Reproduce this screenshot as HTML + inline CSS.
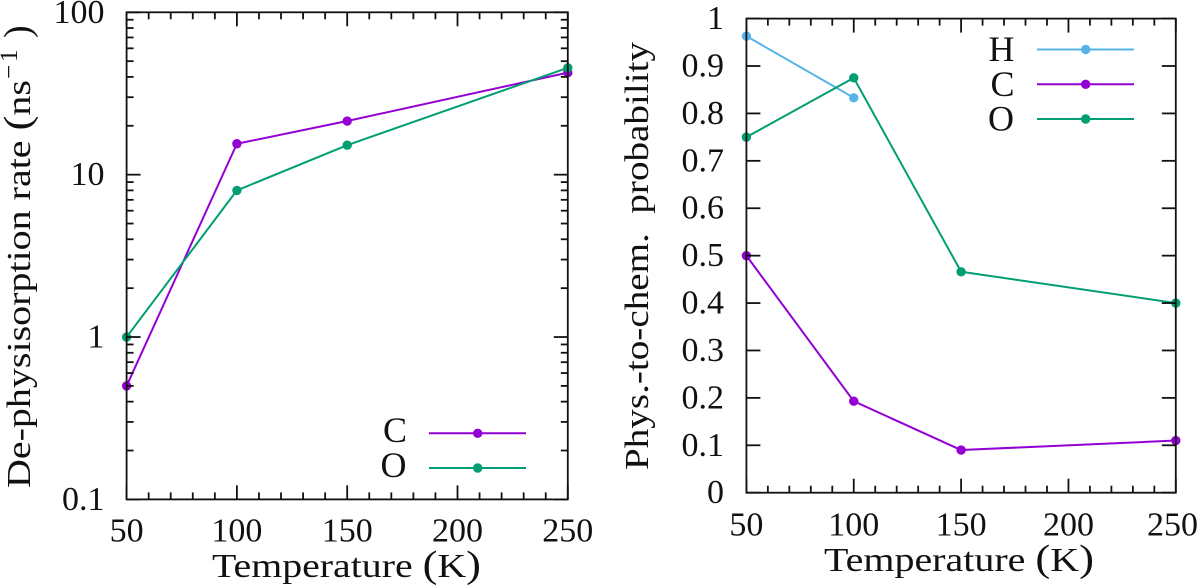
<!DOCTYPE html>
<html lang="en">
<head>
<meta charset="utf-8">
<title>De-physisorption rate and phys-to-chem probability</title>
<style>
html,body{margin:0;padding:0;background:#fff;}
svg{display:block;}
text{font-family:"Liberation Serif",serif;fill:#111;}
</style>
</head>
<body>
<svg id="fig" xmlns="http://www.w3.org/2000/svg" width="1200" height="586" viewBox="0 0 1200 586">
  <rect x="0" y="0" width="1200" height="586" fill="#fff"/>
  <g id="left-plot"></g>
  <g id="right-plot"></g>

  <text x="212" y="577" font-size="34" textLength="269" lengthAdjust="spacingAndGlyphs">Temperature <tspan font-size="38">(</tspan>K<tspan font-size="38">)</tspan></text>
  <text x="824" y="571" font-size="34" textLength="270" lengthAdjust="spacingAndGlyphs">Temperature <tspan font-size="38">(</tspan>K<tspan font-size="38">)</tspan></text>

  <g transform="translate(30 488) rotate(-90)">
    <text x="0" y="0" font-size="34" textLength="408" lengthAdjust="spacingAndGlyphs">De-physisorption rate <tspan font-size="38">(</tspan>ns</text>
    <text y="-13" font-size="25"><tspan x="409">−</tspan><tspan x="426">1</tspan></text>
    <text x="450" y="0" font-size="38">)</text>
  </g>
  <text transform="translate(648 470) rotate(-90)" x="0" y="0" font-size="34" textLength="428" lengthAdjust="spacingAndGlyphs" xml:space="preserve">Phys.-to-chem.  probability</text>

  <g>
    <text x="407" y="442" font-size="36" text-anchor="end">C</text>
    <line x1="429" y1="433.3" x2="526" y2="433.3" stroke="#9400d3" stroke-width="2"/>
    <circle cx="477.7" cy="433.3" r="4.7" fill="#9400d3"/>
    <text x="406.5" y="477" font-size="36" text-anchor="end">O</text>
    <line x1="429" y1="468" x2="526" y2="468" stroke="#009e73" stroke-width="2"/>
    <circle cx="477.7" cy="468" r="4.7" fill="#009e73"/>
  </g>

  <g>
    <text x="1014.5" y="61" font-size="36" text-anchor="end">H</text>
    <line x1="1037" y1="49.5" x2="1134" y2="49.5" stroke="#56b4e9" stroke-width="2"/>
    <circle cx="1085.7" cy="49.5" r="4.7" fill="#56b4e9"/>
    <text x="1014.5" y="96" font-size="36" text-anchor="end">C</text>
    <line x1="1037" y1="84.3" x2="1134" y2="84.3" stroke="#9400d3" stroke-width="2"/>
    <circle cx="1085.7" cy="84.3" r="4.7" fill="#9400d3"/>
    <text x="1014" y="130.5" font-size="36" text-anchor="end">O</text>
    <line x1="1037" y1="119" x2="1134" y2="119" stroke="#009e73" stroke-width="2"/>
    <circle cx="1085.7" cy="119" r="4.7" fill="#009e73"/>
  </g>
</svg>

<script>
// Shared x data
const temperatures = [50, 100, 150, 250];
const xTickValues = [50, 100, 150, 200, 250];
const xMinorTickValues = [60, 70, 80, 90, 110, 120, 130, 140, 160, 170, 180, 190, 210, 220, 230, 240];

// Left panel data (log scale)
const rateC = [0.5, 15.5, 21.4, 42.5];
const rateO = [1, 8, 15.2, 45.5];
const rateTickValues = [0.1, 1, 10, 100];
const rateTickLabels = ['0.1', '1', '10', '100'];
const rateMinorTickValues = [0.2, 0.3, 0.4, 0.5, 0.6, 0.7, 0.8, 0.9, 2, 3, 4, 5, 6, 7, 8, 9, 20, 30, 40, 50, 60, 70, 80, 90];

// Right panel data (linear scale)
const probTemperaturesH = [50, 100];
const probH = [0.963, 0.833];
const probC = [0.5, 0.193, 0.09, 0.11];
const probO = [0.75, 0.875, 0.466, 0.4];
const probTickValues = [0, 0.1, 0.2, 0.3, 0.4, 0.5, 0.6, 0.7, 0.8, 0.9, 1];
const probTickLabels = ['0', '0.1', '0.2', '0.3', '0.4', '0.5', '0.6', '0.7', '0.8', '0.9', '1'];

const NS = 'http://www.w3.org/2000/svg';

function make(parent, tag, name, props) {
  const el = document.createElementNS(NS, tag);
  
  
  for (const key in props) el.setAttribute(key, props[key]);
  parent.appendChild(el);
  return el;
}

function scaleX(box, t) {
  return box.left + (t - 50) / 200 * (box.right - box.left);
}

function logY(box, v) {
  return box.bottom - (Math.log10(v) + 1) / 3 * (box.bottom - box.top);
}

function linY(box, v) {
  return box.bottom - v * (box.bottom - box.top);
}

function drawSeries(parent, box, name, xs, ys, yFn, color) {
  const pts = xs.map(function (t, i) {
    return scaleX(box, t).toFixed(2) + ',' + yFn(box, ys[i]).toFixed(2);
  }).join(' ');
  make(parent, 'polyline', name + '-line', {
    points: pts, fill: 'none', stroke: color, 'stroke-width': 2, 'stroke-linejoin': 'round'
  });
  xs.forEach(function (t, i) {
    make(parent, 'circle', name + '-point-' + t, {
      cx: scaleX(box, t).toFixed(2), cy: yFn(box, ys[i]).toFixed(2), r: 4.7, fill: color
    });
  });
}

function tick(parent, name, x1, y1, x2, y2) {
  make(parent, 'line', name, { x1: x1, y1: y1, x2: x2, y2: y2, stroke: '#111', 'stroke-width': 1.8 });
}

function drawFrame(parent, box, yFn, yTicks, yLabels, yMinor, labelRight, xLabelY) {
  const MAJOR = 14, MINOR = 7;
  xMinorTickValues.forEach(function (t) {
    const x = scaleX(box, t);
    tick(parent, 'x-minor-tick-bottom', x, box.bottom, x, box.bottom - MINOR);
    tick(parent, 'x-minor-tick-top', x, box.top, x, box.top + MINOR);
  });
  xTickValues.forEach(function (t) {
    const x = scaleX(box, t);
    tick(parent, 'x-major-tick-bottom', x, box.bottom, x, box.bottom - MAJOR);
    tick(parent, 'x-major-tick-top', x, box.top, x, box.top + MAJOR);
    const label = make(parent, 'text', 'x-tick-label', { x: Math.min(x, 1172.5), y: xLabelY, 'font-size': 34, 'text-anchor': 'middle' });
    label.textContent = String(t);
  });
  yMinor.forEach(function (v) {
    const y = yFn(box, v);
    tick(parent, 'y-minor-tick-left', box.left, y, box.left + MINOR, y);
    tick(parent, 'y-minor-tick-right', box.right, y, box.right - MINOR, y);
  });
  yTicks.forEach(function (v, i) {
    const y = yFn(box, v);
    tick(parent, 'y-major-tick-left', box.left, y, box.left + MAJOR, y);
    tick(parent, 'y-major-tick-right', box.right, y, box.right - MAJOR, y);
    const label = make(parent, 'text', 'y-tick-label', { x: labelRight, y: y + 10.5, 'font-size': 34, 'text-anchor': 'end' });
    label.textContent = yLabels[i];
  });
  make(parent, 'rect', 'plot-frame', {
    x: box.left, y: box.top, width: box.right - box.left, height: box.bottom - box.top,
    fill: 'none', stroke: '#111', 'stroke-width': 1.8
  });
}

const leftBox = { left: 126.6, right: 567.8, top: 12.3, bottom: 499.4 };
const rightBox = { left: 746.4, right: 1175.8, top: 18.6, bottom: 492.7 };

const leftPanel = document.getElementById('left-plot');
const rightPanel = document.getElementById('right-plot');

drawSeries(leftPanel, leftBox, 'rate-c', temperatures, rateC, logY, '#9400d3');
drawSeries(leftPanel, leftBox, 'rate-o', temperatures, rateO, logY, '#009e73');
drawFrame(leftPanel, leftBox, logY, rateTickValues, rateTickLabels, rateMinorTickValues, 104.5, 541.5);

drawSeries(rightPanel, rightBox, 'prob-h', probTemperaturesH, probH, linY, '#56b4e9');
drawSeries(rightPanel, rightBox, 'prob-c', temperatures, probC, linY, '#9400d3');
drawSeries(rightPanel, rightBox, 'prob-o', temperatures, probO, linY, '#009e73');
drawFrame(rightPanel, rightBox, linY, probTickValues, probTickLabels, [], 724, 535.5);
</script>
</body>
</html>
